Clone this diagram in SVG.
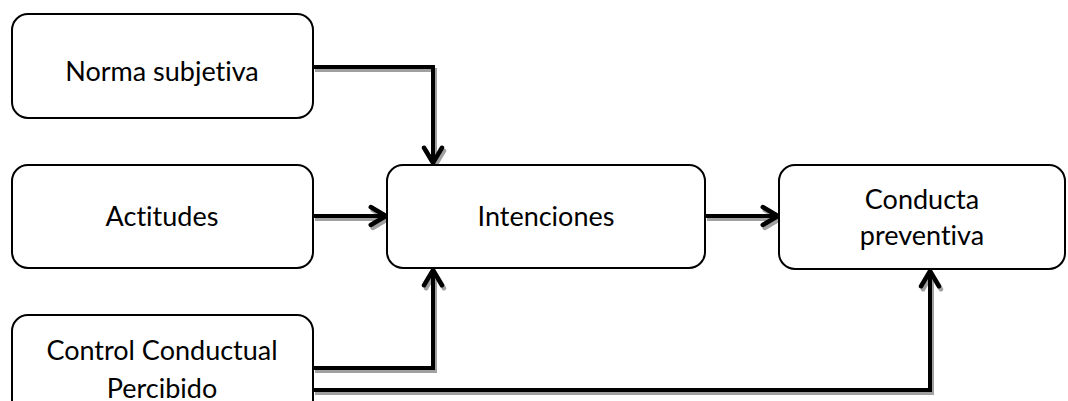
<svg xmlns="http://www.w3.org/2000/svg" width="1068" height="401" viewBox="0 0 1068 401">
<style>
.box{fill:#fff;stroke:#000;stroke-width:2}
.t{font-family:Lato,"Open Sans","Liberation Sans",sans-serif;font-size:27px;fill:#000;text-anchor:middle;font-variant-ligatures:none;font-feature-settings:"liga" 0}
.c{fill:none;stroke:#000;stroke-width:4;stroke-linejoin:miter}
.s{fill:none;stroke:#a0a0a0;stroke-width:4;stroke-linejoin:miter}
</style>
<defs>
<marker id="ah" viewBox="0 0 10 10" refX="9" refY="5" markerWidth="7" markerHeight="7" orient="auto" markerUnits="strokeWidth">
<path d="M3.2,1.8 L8.6,5 L3.2,8.2" fill="none" stroke="#000" stroke-width="1.6" stroke-linecap="round" stroke-linejoin="miter"/>
</marker>
<marker id="ahs" viewBox="0 0 10 10" refX="9" refY="5" markerWidth="7" markerHeight="7" orient="auto" markerUnits="strokeWidth">
<path d="M3.2,1.8 L8.6,5 L3.2,8.2" fill="none" stroke="#a0a0a0" stroke-width="1.6" stroke-linecap="round"/>
</marker>
</defs>
<g id="connectors">
<g transform="translate(2,3)">
<path class="s" d="M313,67 H433 V164" marker-end="url(#ahs)"/>
<path class="s" d="M313,216 H387" marker-end="url(#ahs)"/>
<path class="s" d="M705,216 H779" marker-end="url(#ahs)"/>
<path class="s" d="M313,368 H433 V269" marker-end="url(#ahs)"/>
<path class="s" d="M313,390 H930 V270" marker-end="url(#ahs)"/>
</g>
<path class="c" d="M313,67 H433 V164" marker-end="url(#ah)"/>
<path class="c" d="M313,216 H387" marker-end="url(#ah)"/>
<path class="c" d="M705,216 H779" marker-end="url(#ah)"/>
<path class="c" d="M313,368 H433 V269" marker-end="url(#ah)"/>
<path class="c" d="M313,390 H930 V270" marker-end="url(#ah)"/>
</g>
<g id="norma">
<rect class="box" x="12" y="14" width="301" height="104" rx="16"/>
<text class="t" x="162" y="81">Norma subjetiva</text>
</g>
<g id="actitudes">
<rect class="box" x="12" y="165" width="301" height="103" rx="16"/>
<text class="t" x="162" y="226">Actitudes</text>
</g>
<g id="control">
<rect class="box" x="12" y="315" width="301" height="104" rx="16"/>
<text class="t" x="162" y="360">Control Conductual</text>
<text class="t" x="162" y="398">Percibido</text>
</g>
<g id="intenciones">
<rect class="box" x="387" y="165" width="318" height="103" rx="16"/>
<text class="t" x="546" y="226">Intenciones</text>
</g>
<g id="conducta">
<rect class="box" x="779" y="165" width="286" height="104" rx="16"/>
<text class="t" x="922" y="209">Conducta</text>
<text class="t" x="922" y="245">preventiva</text>
</g>
</svg>
